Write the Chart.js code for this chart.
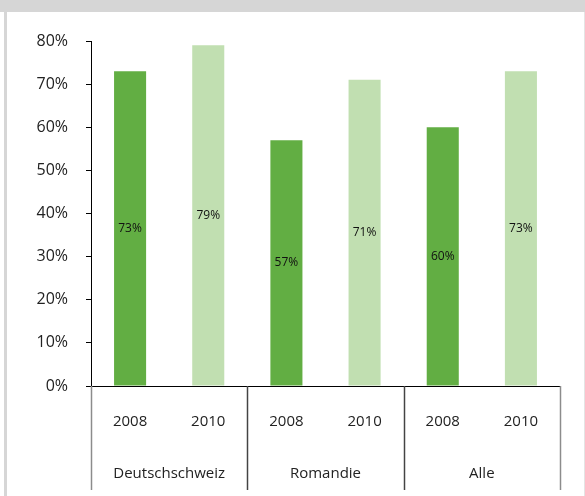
<!DOCTYPE html>
<html>
<head>
<meta charset="utf-8">
<script src="https://cdn.jsdelivr.net/npm/chart.js@4.4.1/dist/chart.umd.min.js"></script>
<style>
  body { margin: 0; background: #fff; }
  #wrap { position: relative; width: 585px; height: 496px; }
  #frameTop { position: absolute; left: 0; top: 0; width: 585px; height: 12px; background: #d6d6d6; }
  #frameLeft { position: absolute; left: 4px; top: 12px; width: 3px; height: 484px; background: #d6d6d6; }
  #frameRight { position: absolute; left: 584px; top: 12px; width: 1px; height: 484px; background: #e4e4e4; }
  canvas { position: absolute; left: 0; top: 0; }
</style>
</head>
<body>
<div id="wrap">
  <div id="frameTop"></div>
  <div id="frameLeft"></div>
  <div id="frameRight"></div>
  <canvas id="chart" width="585" height="496"></canvas>
</div>
<script>
// daten
const years = ['2008', '2010', '2008', '2010', '2008', '2010'];
const groups = ['Deutschschweiz', 'Romandie', 'Alle'];
const values = [73, 79, 57, 71, 60, 73];
const yTicks = [0, 10, 20, 30, 40, 50, 60, 70, 80];

const dark = 'rgb(98, 174, 67)';
const light = 'rgb(193, 223, 177)';
const barColors = years.map(y => y === '2008' ? dark : light);

const fontFam = '"Open Sans", "Noto Sans", sans-serif';

// beschriftung in der balkenmitte
const valueLabels = {
  id: 'valueLabels',
  afterDatasetsDraw(chart) {
    const ctx = chart.ctx;
    const meta = chart.getDatasetMeta(0);
    ctx.save();
    ctx.font = '12px ' + fontFam;
    ctx.fillStyle = '#111';
    ctx.textAlign = 'center';
    ctx.textBaseline = 'middle';
    meta.data.forEach((bar, i) => {
      ctx.fillText(values[i] + '%', bar.x, (bar.y + bar.base) / 2);
    });
    ctx.restore();
  }
};

// trennlinien zwischen den gruppen
const groupLines = {
  id: 'groupLines',
  afterDraw(chart) {
    const ctx = chart.ctx;
    const x2 = chart.scales.x2;
    const step = x2.width / groups.length;
    ctx.save();
    for (let i = 0; i <= groups.length; i++) {
      const px = Math.round(x2.left + i * step) + 0.5;
      const outer = i === 0 || i === groups.length;
      ctx.strokeStyle = outer ? '#8c8c8c' : '#444';
      ctx.lineWidth = 1.5;
      ctx.beginPath();
      ctx.moveTo(px, chart.chartArea.bottom);
      ctx.lineTo(px, x2.bottom);
      ctx.stroke();
    }
    ctx.restore();
  }
};

const ctx = document.getElementById('chart');
new Chart(ctx, {
  type: 'bar',
  data: {
    labels: years,
    datasets: [{
      data: values,
      backgroundColor: barColors,
      categoryPercentage: 1,
      barPercentage: 0.41
    }]
  },
  options: {
    responsive: false,
    animation: false,
    events: [],
    layout: { padding: { left: 0, right: 25, top: 41, bottom: 6 } },
    plugins: {
      legend: { display: false },
      tooltip: { enabled: false }
    },
    scales: {
      y: {
        min: 0,
        max: 80,
        afterBuildTicks: (scale) => { scale.ticks = yTicks.map(v => ({ value: v })); },
        afterFit: (scale) => { scale.width = 91; },
        ticks: {
          callback: (v) => v + '%',
          font: { family: fontFam, size: 16 },
          color: '#222',
          padding: 18
        },
        grid: { drawOnChartArea: false, tickLength: 5, color: '#000' },
        border: { color: '#000', width: 1 }
      },
      x: {
        afterFit: (scale) => { scale.height = 52; },
        grid: { display: false },
        border: { color: '#000', width: 1 },
        ticks: {
          font: { family: fontFam, size: 15 },
          color: '#222',
          padding: 19,
          maxRotation: 0
        }
      },
      x2: {
        type: 'category',
        position: 'bottom',
        labels: groups,
        afterFit: (scale) => { scale.height = 52; },
        grid: { display: false },
        border: { display: false },
        ticks: {
          font: { family: fontFam, size: 15 },
          color: '#222',
          padding: 19,
          maxRotation: 0
        }
      }
    }
  },
  plugins: [valueLabels, groupLines]
});
</script>
</body>
</html>
